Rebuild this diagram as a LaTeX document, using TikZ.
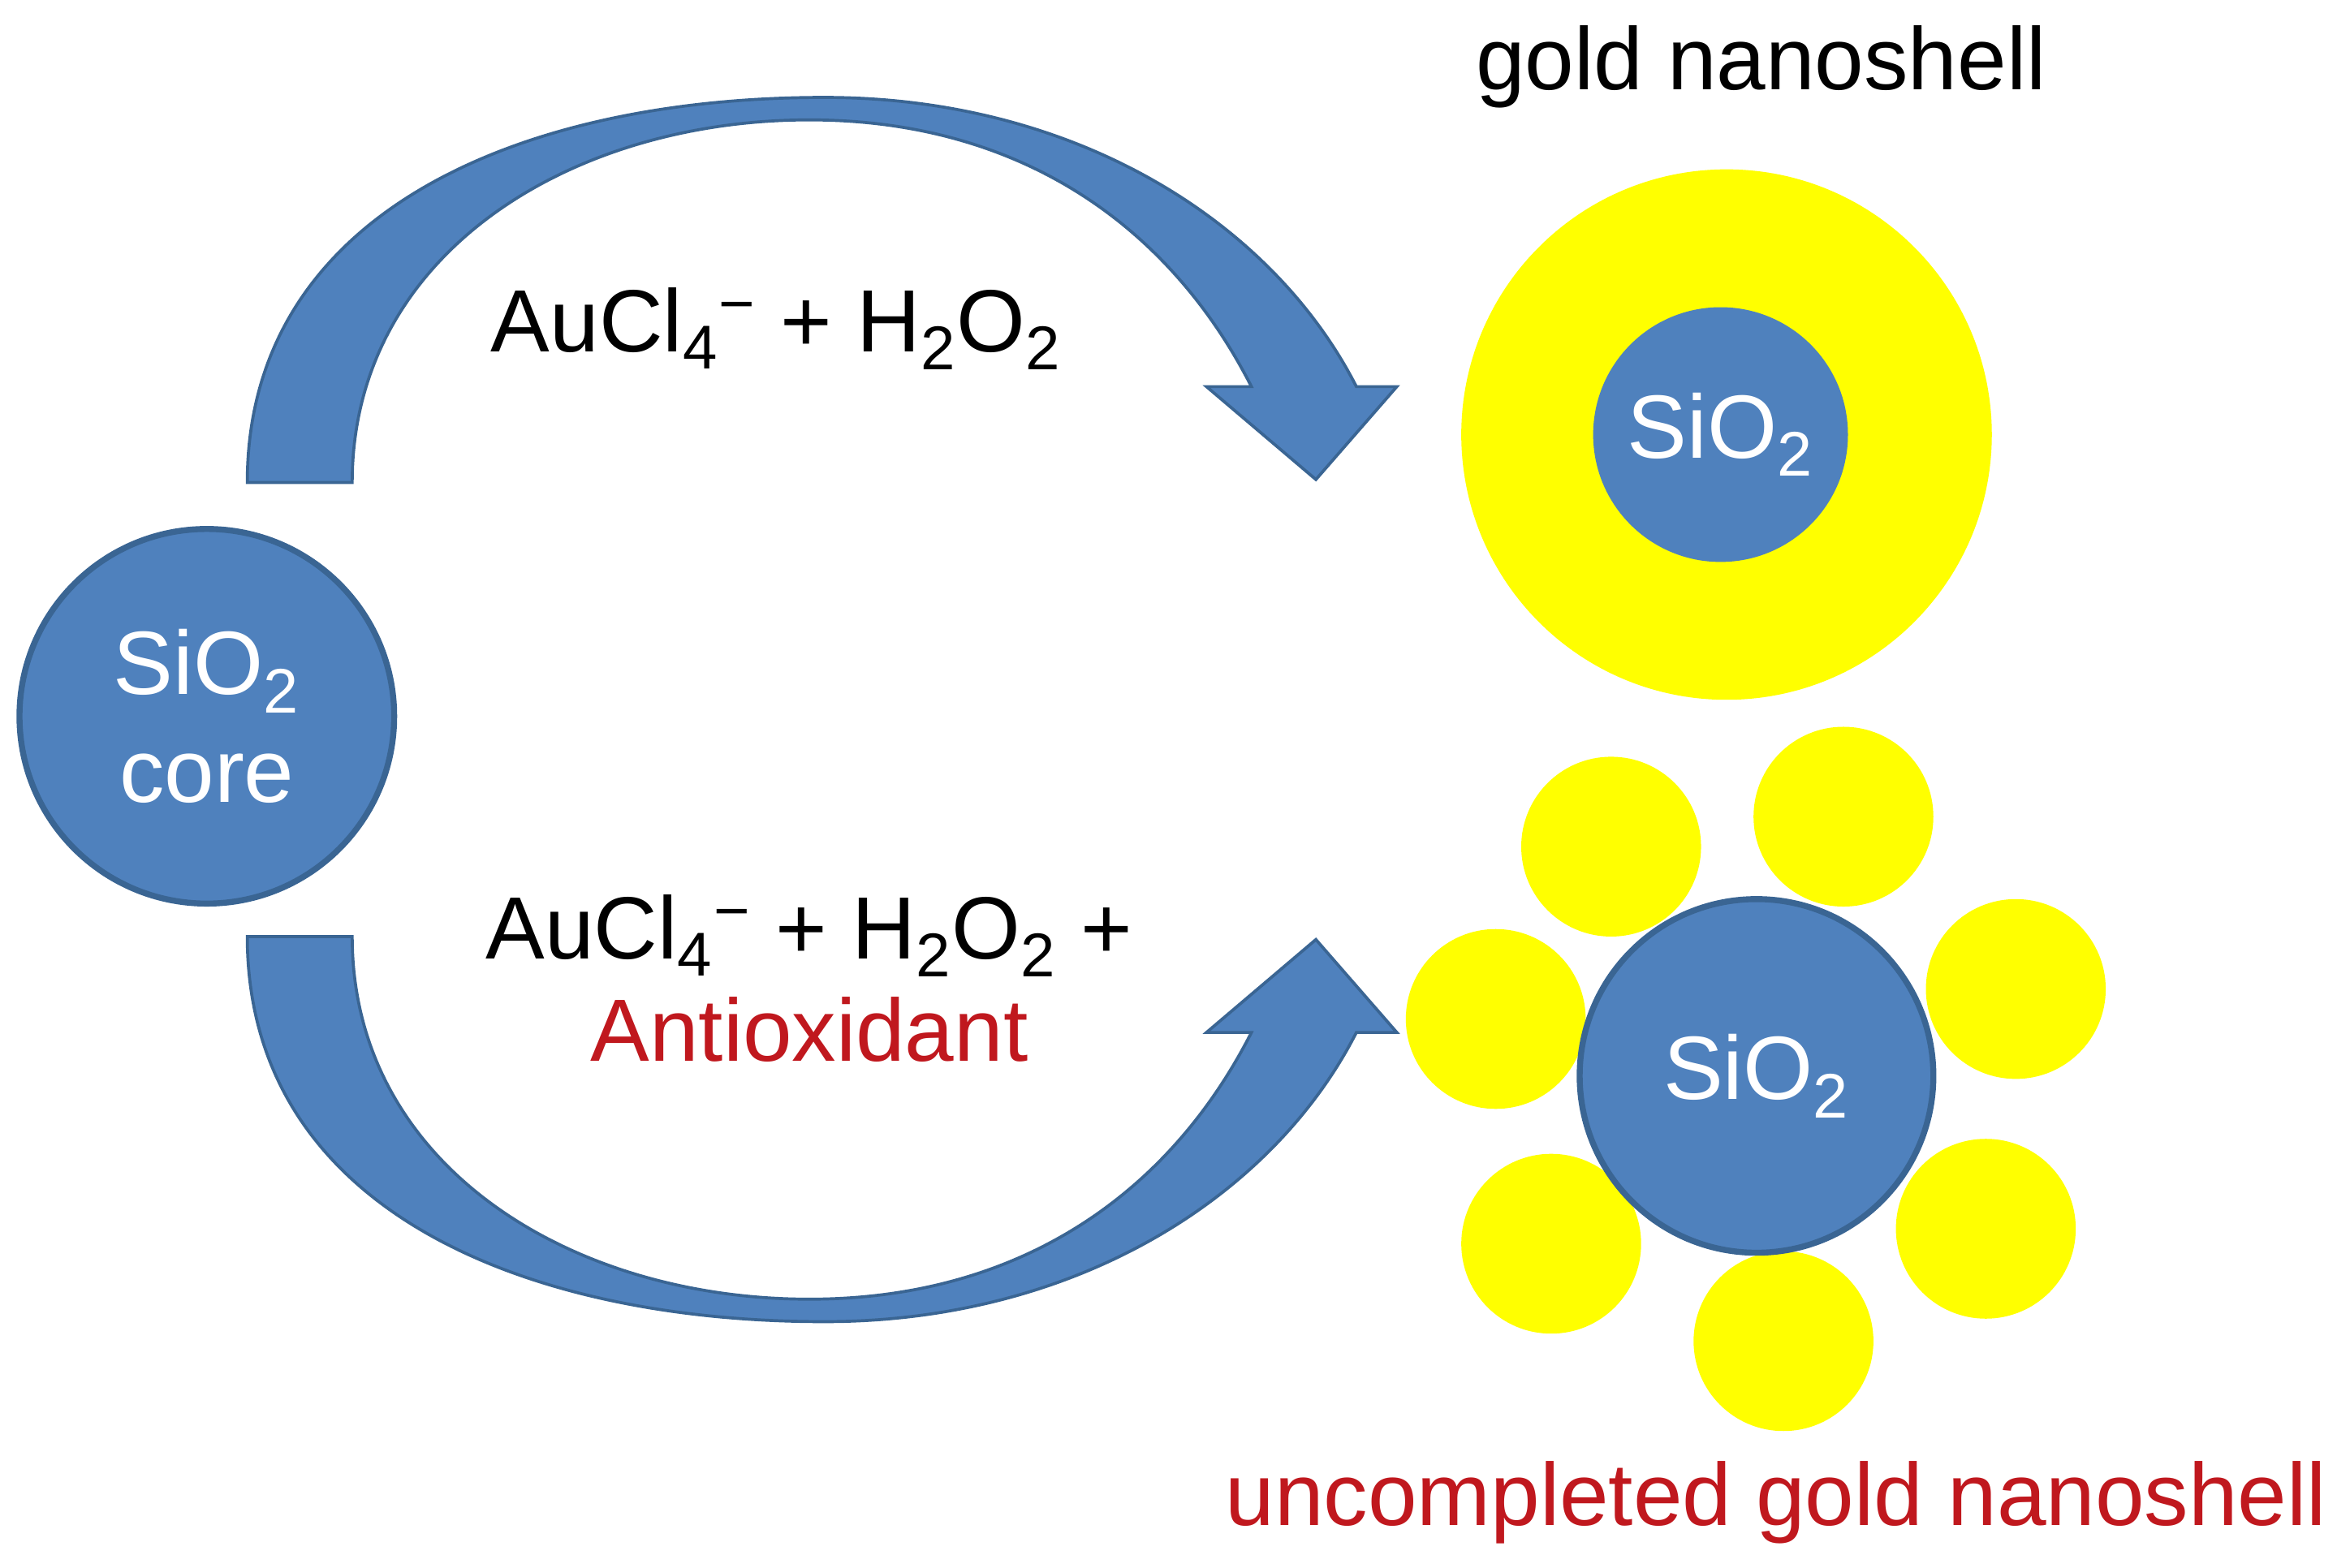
\documentclass[tikz,border=0pt]{standalone}
\usepackage{fontspec}
\setmainfont{Liberation Sans}
\definecolor{blu}{HTML}{4F81BD}
\definecolor{bluedge}{HTML}{3A6593}
\definecolor{yel}{HTML}{FFFF00}
\definecolor{redt}{HTML}{C0181E}
\newcommand{\sbs}[1]{\textsubscript{#1}}
\newcommand{\minussup}{\textsuperscript{\char"2212}}
\begin{document}
\begin{tikzpicture}[x=0.5pt,y=-0.5pt,
  core/.style={circle,fill=blu,draw=bluedge,line width=2pt,inner sep=0pt,text=white,font=\fontsize{30}{36}\selectfont,align=center},
  gold/.style={circle,fill=yel,inner sep=0pt,minimum size=60pt},
  arr/.style={fill=blu,draw=bluedge,line width=1pt},
  lab/.style={font=\fontsize{29.5}{35}\selectfont,align=center}]
\useasboundingbox (0,0) rectangle (1568,1046);
% left core
\node[core,minimum size=125pt] (core) at (138,478) {SiO\sbs{2}\\core};
% top arrow
\draw[arr] (165,322) .. controls (165,140) and (350,65) .. (550,65) .. controls (720,65) and (850,150) .. (905,258)
  -- (932,258) -- (878,320) -- (805,258) -- (835,258)
  .. controls (780,150) and (680,80) .. (540,80) .. controls (380,80) and (235,170) .. (235,322) -- cycle;
% bottom arrow (mirror)
\begin{scope}[yshift=-473.5pt,yscale=-1]
\draw[arr] (165,322) .. controls (165,140) and (350,65) .. (550,65) .. controls (720,65) and (850,150) .. (905,258)
  -- (932,258) -- (878,320) -- (805,258) -- (835,258)
  .. controls (780,150) and (680,80) .. (540,80) .. controls (380,80) and (235,170) .. (235,322) -- cycle;
\end{scope}
% top product
\node[circle,fill=yel,inner sep=0pt,minimum size=177pt] (shell) at (1152,290) {};
\node[core,draw=none,minimum size=85pt] (in1) at (1148,290) {SiO\sbs{2}};
\node[lab,anchor=base] (t1) at (1175,60) {gold nanoshell};
% bottom product
\foreach \n/\x/\y in {a/1075/565,b/1230/545,c/1345/660,d/1325/820,e/1190/895,f/1035/830,g/998/680}
  \node[gold] (g\n) at (\x,\y) {};
\node[core,minimum size=118pt] (in2) at (1172,718) {SiO\sbs{2}};
\node[lab,anchor=base,text=redt] (t2) at (1185,1018) {uncompleted gold nanoshell};
% reaction labels
\node[lab,anchor=base] (r1) at (518,235) {AuCl\sbs{4}\minussup{} + H\sbs{2}O\sbs{2}};
\node[lab,anchor=base] (r2) at (540,640) {AuCl\sbs{4}\minussup{} + H\sbs{2}O\sbs{2} +};
\node[lab,anchor=base,text=redt] (r3) at (540,708) {Antioxidant};
\end{tikzpicture}
\end{document}
